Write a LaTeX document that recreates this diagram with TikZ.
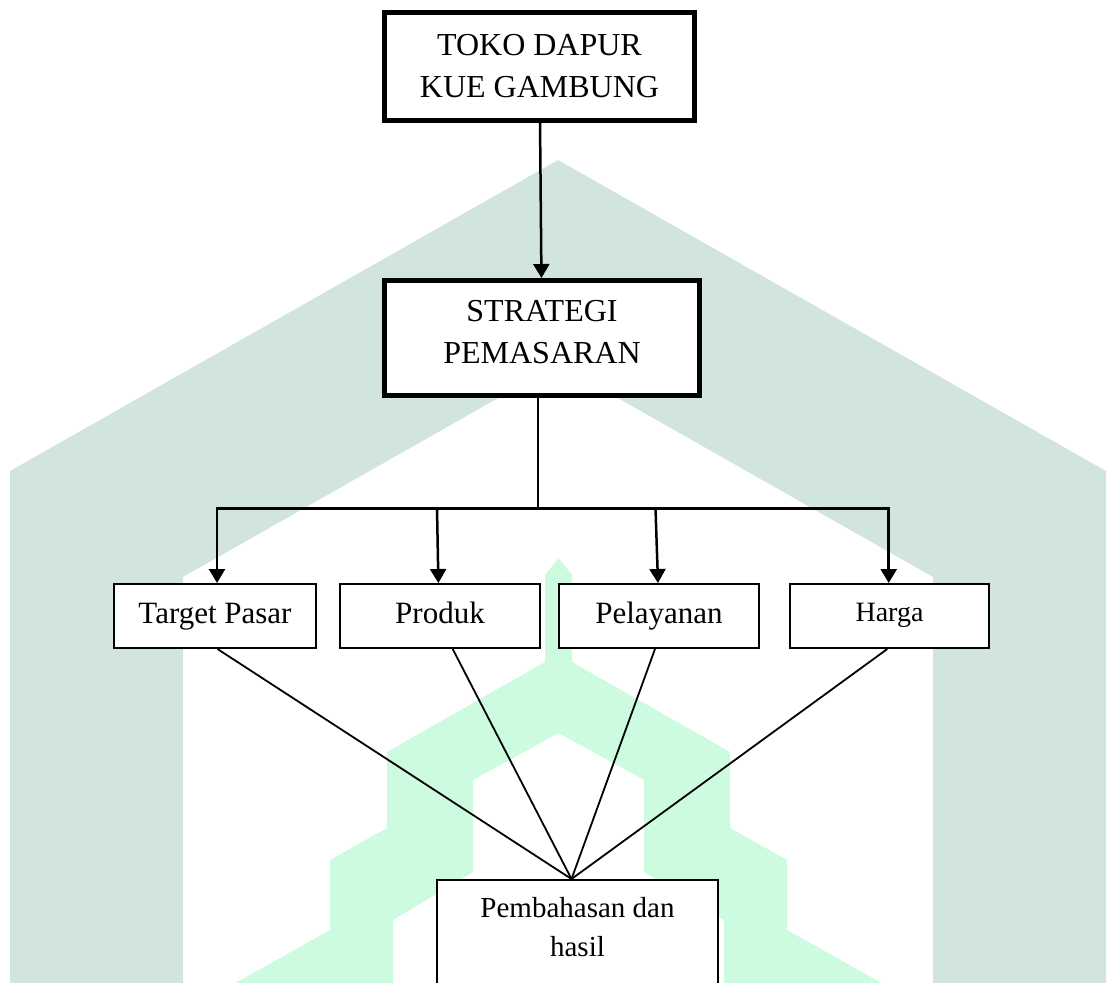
\documentclass[tikz,border=0pt]{standalone}
\usepackage{fontspec}
\setmainfont{Liberation Serif}
\usetikzlibrary{arrows.meta,calc}
\definecolor{wmgray}{HTML}{D2E5DC}
\definecolor{wmmint}{HTML}{CCFBDF}
\begin{document}
\begin{tikzpicture}[x=1pt,y=-1pt,
  thickbox/.style={draw, line width=4.8pt, fill=white, align=center, font=\fontsize{32}{42}\selectfont},
  smallbox/.style={draw, line width=1.9pt, fill=white, minimum height=64.1pt, inner sep=0pt,
    font=\fontsize{31}{37}\selectfont, text height=21pt, text depth=7pt},
  arr/.style={line width=2.5pt, -{Triangle[length=14pt,width=16pt]}},
  bus/.style={line width=2.4pt, line cap=rect},
  plain/.style={line width=1.8pt},
]
\useasboundingbox (0,0) rectangle (1107,982);
\clip (0,0) rectangle (1107,982);
% watermark
\fill[wmgray, even odd rule]
  (10,1000) -- (10,471) -- (558,160) -- (1106,471) -- (1106,1000) -- cycle
  (183,1000) -- (183,577) -- (558,364) -- (933,577) -- (933,1000) -- cycle;
\fill[wmmint, even odd rule]
  (205,1000) -- (330,930) -- (330,860) -- (387,828) -- (387,752) -- (545,662) -- (545,575)
  -- (558.5,558) -- (572,575) -- (572,662) -- (730,752) -- (730,828) -- (787,860)
  -- (787,930) -- (912,1000) -- cycle
  (393,1000) -- (393,920) -- (473,872) -- (473,780) -- (558.5,733) -- (644,780)
  -- (644,872) -- (724,920) -- (724,1000) -- cycle;
% boxes
\node[thickbox, minimum width=310.2pt, minimum height=108.2pt] (toko) at (539.5,66.5)
  {TOKO DAPUR\\KUE GAMBUNG};
\node[thickbox, minimum width=315.2pt, minimum height=115.2pt] (strat) at (542,338)
  {STRATEGI\\PEMASARAN\rule[-12.6pt]{0pt}{12.6pt}};
\node[smallbox, minimum width=202.1pt] (tp) at (215,616) {Target Pasar};
\node[smallbox, minimum width=200.1pt] (pr) at (440,616) {Produk};
\node[smallbox, minimum width=200.1pt] (pl) at (659,616) {Pelayanan};
\node[smallbox, minimum width=199.1pt, font=\fontsize{28}{34}\selectfont, text height=17pt] (hg) at (889.5,616) {Harga};
\node[draw, line width=1.9pt, fill=white, anchor=north, minimum width=281.1pt, inner ysep=17pt,
  align=center, font=\fontsize{29}{39}\selectfont] (pb) at (577.5,879)
  {Pembahasan dan\\hasil\rule[-40pt]{0pt}{40pt}};
% connectors
\draw[arr] (toko) -- (strat);
\coordinate (junc) at (538,508.3);
\coordinate (busL) at (217,508.3);
\coordinate (busR) at (888.7,508.3);
\draw[plain] (strat.south -| junc) -- (junc);
\draw[bus] (busL) -- (busR);
\draw[arr] (busL) -- (busL |- tp.north);
\draw[arr] ($(pr.north |- junc)+(-3,0)$) -- ([xshift=-1.6pt]pr.north);
\draw[arr] ($(pl.north |- junc)+(-3.5,0)$) -- ([xshift=-1pt]pl.north);
\draw[arr] (busR) -- (busR |- hg.north);
\coordinate (meet) at ($(pb.north)+(-6,0)$);
\draw[plain] ([xshift=2.5pt]tp.south) -- (meet);
\draw[plain] ([xshift=12.7pt]pr.south) -- (meet);
\draw[plain] ([xshift=-4pt]pl.south) -- (meet);
\draw[plain] ([xshift=-2.2pt]hg.south) -- (meet);
\end{tikzpicture}
\end{document}
